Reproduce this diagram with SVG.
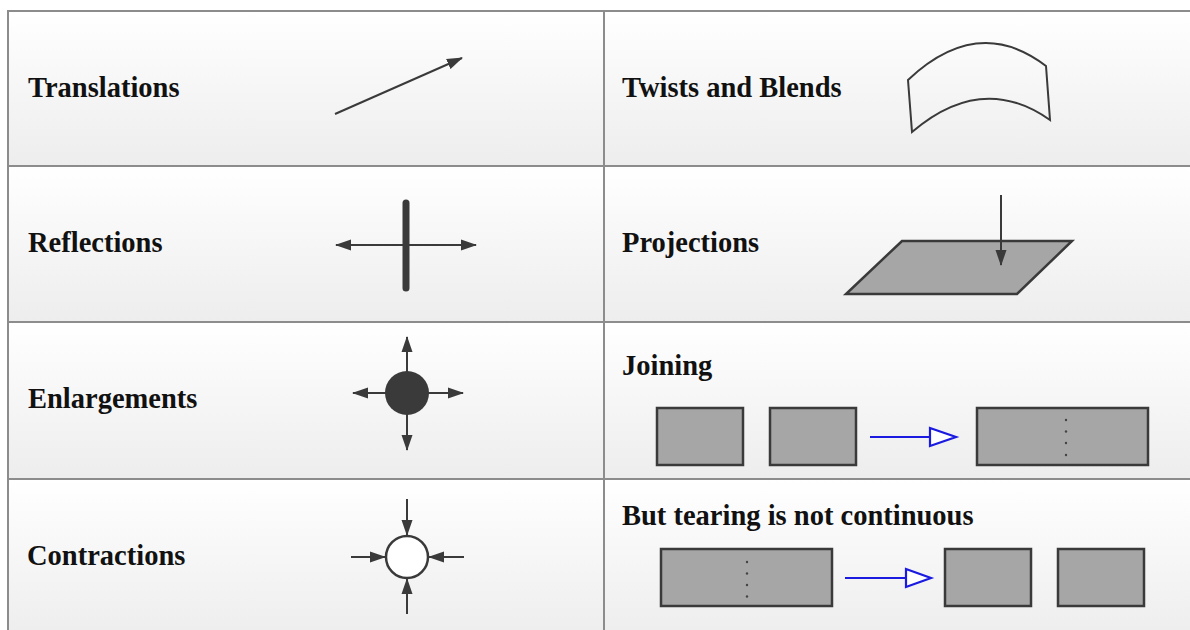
<svg xmlns="http://www.w3.org/2000/svg" width="1190" height="630" viewBox="0 0 1190 630">
<defs>
<linearGradient id="cellg" x1="0" y1="0" x2="0" y2="1">
<stop offset="0" stop-color="#ffffff"/>
<stop offset="1" stop-color="#ededed"/>
</linearGradient>
<marker id="ah" markerWidth="16" markerHeight="12" refX="15" refY="6" orient="auto-start-reverse" markerUnits="userSpaceOnUse">
<path d="M0,0.5 L16,6 L0,11.5 Z" fill="#3a3a3a"/>
</marker>
</defs>
<style>
.cell{fill:url(#cellg);stroke:#8c8c8c;stroke-width:2}
.lbl{font-family:"Liberation Serif",serif;font-weight:bold;font-size:28.5px;fill:#111}
.ln{stroke:#3a3a3a;stroke-width:2;fill:none}
.box{fill:#a6a6a6;stroke:#3a3a3a;stroke-width:2.5}
.dot{fill:#444}
.blue{stroke:#1a1ae0;stroke-width:2;fill:none}
.bluehead{fill:#ffffff;stroke:#1a1ae0;stroke-width:2.2}
</style>
<rect width="1190" height="630" fill="#ffffff"/>
<g id="cells">
<rect class="cell" x="8" y="11" width="596" height="155"/>
<rect class="cell" x="604" y="11" width="600" height="155"/>
<rect class="cell" x="8" y="166" width="596" height="156"/>
<rect class="cell" x="604" y="166" width="600" height="156"/>
<rect class="cell" x="8" y="322" width="596" height="157"/>
<rect class="cell" x="604" y="322" width="600" height="157"/>
<rect class="cell" x="8" y="479" width="596" height="160"/>
<rect class="cell" x="604" y="479" width="600" height="160"/>
</g>
<g id="translations">
<text class="lbl" x="28" y="97">Translations</text>
<line class="ln" x1="335" y1="114" x2="462" y2="58" marker-end="url(#ah)"/>
</g>
<g id="twists">
<text class="lbl" x="622" y="97">Twists and Blends</text>
<path class="ln" d="M908,80 Q978,14 1046,66 L1050,120 Q982,72 912,132 Z"/>
</g>
<g id="reflections">
<text class="lbl" x="28" y="252">Reflections</text>
<line x1="406" y1="203" x2="406" y2="288" stroke="#3a3a3a" stroke-width="7" stroke-linecap="round"/>
<line class="ln" x1="336" y1="245" x2="476" y2="245" marker-start="url(#ah)" marker-end="url(#ah)"/>
</g>
<g id="projections">
<text class="lbl" x="622" y="252">Projections</text>
<path class="box" d="M902,241 L1072,241 L1017,294 L846,294 Z" stroke-width="2"/>
<line class="ln" x1="1001" y1="195" x2="1001" y2="265" marker-end="url(#ah)"/>
</g>
<g id="enlargements">
<text class="lbl" x="28" y="408">Enlargements</text>
<circle cx="407" cy="393" r="22" fill="#3a3a3a"/>
<line class="ln" x1="407" y1="375" x2="407" y2="337" marker-end="url(#ah)"/>
<line class="ln" x1="407" y1="411" x2="407" y2="450" marker-end="url(#ah)"/>
<line class="ln" x1="390" y1="393" x2="353" y2="393" marker-end="url(#ah)"/>
<line class="ln" x1="424" y1="393" x2="463" y2="393" marker-end="url(#ah)"/>
</g>
<g id="joining">
<text class="lbl" x="622" y="375">Joining</text>
<rect class="box" x="657" y="408" width="86" height="57"/>
<rect class="box" x="770" y="408" width="86" height="57"/>
<rect class="box" x="977" y="408" width="171" height="57"/>
<circle class="dot" cx="1066" cy="420" r="1.2"/>
<circle class="dot" cx="1066" cy="431.5" r="1.2"/>
<circle class="dot" cx="1066" cy="443" r="1.2"/>
<circle class="dot" cx="1066" cy="455" r="1.2"/>
<line class="blue" x1="870" y1="437" x2="930" y2="437"/>
<path class="bluehead" d="M930,428 L956,437 L930,446 Z"/>
</g>
<g id="contractions">
<text class="lbl" x="27" y="565">Contractions</text>
<circle cx="407" cy="557" r="21" fill="#ffffff" stroke="#3a3a3a" stroke-width="2.5"/>
<line class="ln" x1="407" y1="499" x2="407" y2="535" marker-end="url(#ah)"/>
<line class="ln" x1="407" y1="614" x2="407" y2="579" marker-end="url(#ah)"/>
<line class="ln" x1="351" y1="557" x2="385" y2="557" marker-end="url(#ah)"/>
<line class="ln" x1="464" y1="557" x2="429" y2="557" marker-end="url(#ah)"/>
</g>
<g id="tearing">
<text class="lbl" x="622" y="525">But tearing is not continuous</text>
<rect class="box" x="661" y="549" width="171" height="57"/>
<circle class="dot" cx="747" cy="562" r="1.2"/>
<circle class="dot" cx="747" cy="573.5" r="1.2"/>
<circle class="dot" cx="747" cy="585" r="1.2"/>
<circle class="dot" cx="747" cy="596.5" r="1.2"/>
<line class="blue" x1="845" y1="578" x2="906" y2="578"/>
<path class="bluehead" d="M906,569 L931,578 L906,587 Z"/>
<rect class="box" x="945" y="549" width="86" height="57"/>
<rect class="box" x="1058" y="549" width="86" height="57"/>
</g>
</svg>
